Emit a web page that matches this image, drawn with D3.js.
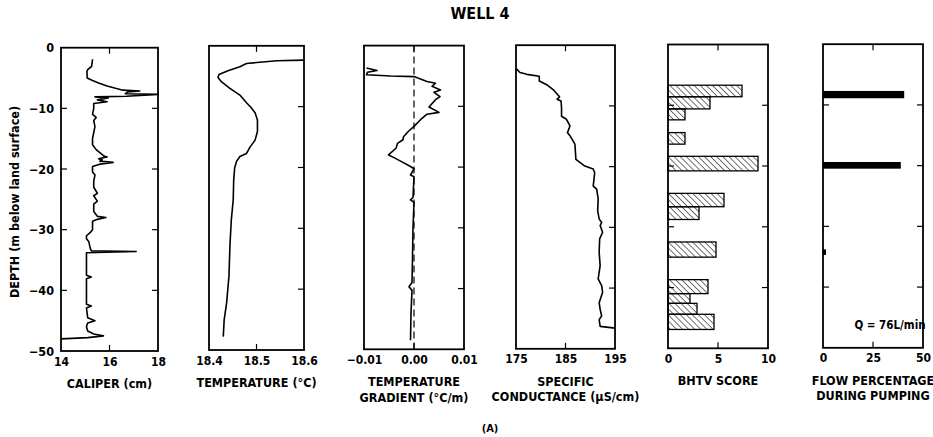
<!DOCTYPE html>
<html><head><meta charset="utf-8">
<script src="https://cdn.jsdelivr.net/npm/d3@7"></script>
<style>
body{margin:0;background:#fff}
svg text{font-family:"Liberation Sans Narrow","DejaVu Sans Condensed","Arial Narrow",sans-serif;font-weight:bold;fill:#000}
</style></head><body>
<svg id="c" width="933" height="437"></svg>
<script>
// ---- data: [depth (m), value] ----
const caliper = [[-1.9,15.30],[-2.6,15.28],[-3.1,15.26],[-3.6,15.10],[-3.9,15.07],[-5.0,15.08],[-5.4,15.30],[-5.8,15.55],[-6.3,15.90],[-6.7,16.25],[-7.0,16.55],[-7.15,17.25],[-7.3,16.75],[-7.6,16.65],[-7.7,18.0],[-8.0,16.7],[-8.1,15.4],[-8.3,15.95],[-8.6,15.5],[-8.9,15.9],[-9.2,15.35],[-10,15.35],[-11,15.3],[-11.5,15.45],[-12,15.35],[-13,15.4],[-14,15.35],[-15,15.3],[-16,15.3],[-16.8,15.45],[-17.3,15.6],[-17.8,15.75],[-18.0,15.9],[-18.3,15.55],[-18.5,15.7],[-18.7,15.6],[-18.9,16.15],[-19.2,15.6],[-19.6,15.3],[-20.5,15.3],[-21,15.4],[-22,15.35],[-23,15.35],[-24,15.5],[-24.4,15.35],[-25.3,15.5],[-25.8,15.35],[-27,15.35],[-27.8,15.5],[-28.0,15.85],[-28.3,15.5],[-28.6,15.3],[-30,15.3],[-30.5,15.2],[-31.0,15.05],[-31.5,15.05],[-32,15.15],[-33,15.2],[-33.5,15.25],[-33.6,17.1],[-33.8,15.05],[-37.5,15.05],[-37.8,15.25],[-38.1,15.05],[-42.3,15.05],[-42.6,15.25],[-42.9,15.05],[-44.5,15.1],[-45.0,15.4],[-45.4,15.1],[-46.0,15.05],[-46.7,15.1],[-47.2,15.35],[-47.5,15.75],[-47.8,15.1],[-48.0,14.0]];
const temperature = [[-2.35,18.599],[-2.46,18.543],[-2.9,18.479],[-3.45,18.465],[-4.1,18.44],[-4.7,18.421],[-5.2,18.419],[-5.9,18.426],[-7.0,18.444],[-8.1,18.465],[-9.35,18.479],[-10.1,18.488],[-11.0,18.497],[-12.2,18.502],[-14.1,18.502],[-15.5,18.497],[-16.7,18.486],[-17.7,18.479],[-18.2,18.465],[-19.0,18.458],[-20.1,18.454],[-22.0,18.452],[-25.3,18.451],[-28.6,18.447],[-33,18.444],[-37.9,18.442],[-42.3,18.437],[-45,18.432],[-47.8,18.43]];
const gradient = [[-3.7,-0.0095],[-4.1,-0.0074],[-4.4,-0.0093],[-4.8,-0.0095],[-5.0,-0.0047],[-5.1,0.0],[-5.9,0.0026],[-6.2,0.0043],[-6.7,0.0036],[-7.3,0.0053],[-7.7,0.004],[-8.4,0.0052],[-8.9,0.0043],[-10.1,0.003],[-11.0,0.005],[-11.3,0.0026],[-12.2,0.0013],[-13.3,0.0],[-14.1,-0.0011],[-15.0,-0.0021],[-15.5,-0.0022],[-16.1,-0.0033],[-16.9,-0.0036],[-18.0,-0.0051],[-18.4,-0.0041],[-19.1,-0.0025],[-19.9,-0.0007],[-20.3,0.0],[-21.3,-0.0007],[-21.6,0.0],[-25.0,-0.0002],[-25.4,-0.0007],[-25.8,0.0],[-30,-0.0002],[-35,-0.0003],[-39.0,-0.0004],[-39.7,-0.001],[-40.3,-0.0004],[-44,-0.0006],[-48.5,-0.0007]];
const conductance = [[-3.9,175.1],[-4.5,175.8],[-4.8,177.2],[-5.1,179.7],[-5.9,179.7],[-6.5,181.2],[-7.3,182.5],[-8.5,183.8],[-8.9,183.3],[-9.2,184.1],[-10.3,184.2],[-11.7,184.2],[-12.2,185.2],[-13.3,185.9],[-14.4,185.4],[-14.9,185.9],[-16.3,186.9],[-18.8,187.1],[-19.9,188.9],[-20.4,190.6],[-21.0,190.9],[-23.2,190.6],[-23.7,191.3],[-25.3,191.6],[-27.3,191.5],[-28.6,191.8],[-29.2,192.3],[-29.7,192.0],[-30.8,192.5],[-31.9,191.9],[-34.1,191.8],[-36.3,192.0],[-38.5,191.6],[-39.6,192.3],[-40.7,192.5],[-42.4,191.8],[-43.5,192.0],[-44.6,192.3],[-45.2,191.8],[-46.3,192.0],[-46.6,195]];
// [top depth, bottom depth, score]
const bhtv = [[-6.7,-8.6,7.4],[-8.6,-10.6,4.2],[-10.6,-12.4,1.7],[-14.5,-16.4,1.7],[-18.4,-20.8,9.0],[-24.5,-26.7,5.6],[-26.7,-28.8,3.1],[-32.5,-35.0,4.8],[-38.7,-41.0,4.0],[-41.0,-42.6,2.2],[-42.6,-44.4,2.9],[-44.4,-46.9,4.6]];
// [top depth, bottom depth, flow %]
const flow = [[-7.7,-8.9,40.6],[-19.4,-20.5,38.9],[-33.8,-34.7,1.5]];
const depthTicks = [0,-10,-20,-30,-40,-50];
const caliperTicks = [14,16,18];
const temperatureTicks = [18.4,18.5,18.6];
const gradientTicks = [-0.01,0,0.01];
const conductanceTicks = [175,185,195];
const bhtvTicks = [0,5,10];
const flowTicks = [0,25,50];

const svg = d3.select("#c");
const defs = svg.append("defs");
const pat = defs.append("pattern").attr("id","hatch").attr("patternUnits","userSpaceOnUse")
  .attr("width",4.3).attr("height",4.3).attr("patternTransform","rotate(-45)");
pat.append("line").attr("x1",0).attr("y1",0).attr("x2",0).attr("y2",4.3).attr("stroke","#000").attr("stroke-width",1.1);

const panels = [
 {x0:61,x1:158,top:47.7,bottom:351,domain:[14,18],ticks:caliperTicks,fmt:d3.format("d"),title:["CALIPER (cm)"],left:true},
 {x0:209,x1:304,top:45.8,bottom:350,domain:[18.4,18.6],ticks:temperatureTicks,fmt:d3.format(".1f"),title:["TEMPERATURE (°C)"]},
 {x0:364,x1:464,top:45.6,bottom:349.3,domain:[-0.01,0.01],ticks:gradientTicks,fmt:d3.format(".2f"),title:["TEMPERATURE","GRADIENT (°C/m)"]},
 {x0:516,x1:615,top:45.2,bottom:348.8,domain:[175,195],ticks:conductanceTicks,fmt:d3.format("d"),title:["SPECIFIC","CONDUCTANCE (µS/cm)"]},
 {x0:668,x1:768,top:44.5,bottom:348.3,domain:[0,10],ticks:bhtvTicks,fmt:d3.format("d"),title:["BHTV SCORE"],leftTicks:true},
 {x0:823,x1:923,top:44.2,bottom:347.8,domain:[0,50],ticks:flowTicks,fmt:d3.format("d"),title:["FLOW PERCENTAGE","DURING PUMPING"],leftTicks:true}
];
panels.forEach(p=>{
  p.xs = d3.scaleLinear().domain(p.domain).range([p.x0,p.x1]);
  p.ys = d3.scaleLinear().domain([0,-50]).range([p.top,p.bottom]);
});

function drawFrame(p){
  const g = svg.append("g");
  g.append("rect").attr("x",p.x0).attr("y",p.top).attr("width",p.x1-p.x0).attr("height",p.bottom-p.top)
    .attr("fill","none").attr("stroke","#000").attr("stroke-width",1.8);
  const inner = depthTicks.slice(1,-1);
  g.selectAll(".rt").data(inner).join("line").attr("x1",p.x1).attr("x2",p.x1-6)
    .attr("y1",d=>p.ys(d)).attr("y2",d=>p.ys(d)).attr("stroke","#000").attr("stroke-width",1.2);
  if(p.left||p.leftTicks){
    g.selectAll(".lt").data(inner).join("line").attr("x1",p.x0).attr("x2",p.x0+6)
      .attr("y1",d=>p.ys(d)).attr("y2",d=>p.ys(d)).attr("stroke","#000").attr("stroke-width",1.2);
  }
  const mid = p.ticks[1];
  g.append("line").attr("x1",p.xs(mid)).attr("x2",p.xs(mid)).attr("y1",p.top).attr("y2",p.top+6).attr("stroke","#000").attr("stroke-width",1.2);
  g.append("line").attr("x1",p.xs(mid)).attr("x2",p.xs(mid)).attr("y1",p.bottom).attr("y2",p.bottom-6).attr("stroke","#000").attr("stroke-width",1.2);
  const ax = g.append("g").attr("transform",`translate(0,${p.bottom})`)
    .call(d3.axisBottom(p.xs).tickValues(p.ticks).tickFormat(p.fmt).tickSize(0).tickPadding(6));
  ax.select(".domain").remove();
  ax.selectAll("text").style("font-size","12px").attr("fill","#000");
  p.title.forEach((t,i)=>{
    g.append("text").attr("x",(p.x0+p.x1)/2).attr("y",p.bottom+37+i*15.5).attr("text-anchor","middle")
      .style("font-size","12.5px").text(t);
  });
  if(p.left){
    const ay = g.append("g").attr("transform",`translate(${p.x0},0)`)
      .call(d3.axisLeft(p.ys).tickValues(depthTicks).tickFormat(d3.format("d")).tickSize(0).tickPadding(7));
    ay.select(".domain").remove();
    ay.selectAll("text").style("font-size","12.5px").attr("fill","#000");
  }
  return g;
}
panels.forEach(drawFrame);

const line = p => d3.line().x(d=>p.xs(d[1])).y(d=>p.ys(d[0]));
const series = [caliper, temperature, gradient, conductance];
series.forEach((s,i)=>{
  const p = panels[i];
  svg.append("path").datum(s).attr("d",line(p)).attr("fill","none").attr("stroke","#000")
    .attr("stroke-width",1.6).attr("stroke-linejoin","round");
});
// zero dashed line in gradient panel
{
  const p = panels[2];
  svg.append("line").attr("x1",p.xs(0)).attr("x2",p.xs(0)).attr("y1",p.top).attr("y2",p.bottom)
    .attr("stroke","#000").attr("stroke-width",1.2).attr("stroke-dasharray","7,4");
}
// BHTV bars
{
  const p = panels[4];
  svg.append("g").selectAll("rect").data(bhtv).join("rect")
    .attr("x",p.xs(0)).attr("y",d=>p.ys(d[0])).attr("width",d=>p.xs(d[2])-p.xs(0))
    .attr("height",d=>p.ys(d[1])-p.ys(d[0])).attr("fill","url(#hatch)").attr("stroke","#000").attr("stroke-width",1.3);
}
// flow bars
{
  const p = panels[5];
  svg.append("g").selectAll("rect").data(flow).join("rect")
    .attr("x",p.xs(0)).attr("y",d=>p.ys(d[0])).attr("width",d=>p.xs(d[2])-p.xs(0))
    .attr("height",d=>p.ys(d[1])-p.ys(d[0])).attr("fill","#000");
  svg.append("text").attr("x",p.x0+67).attr("y",p.bottom-19).attr("text-anchor","middle")
    .style("font-size","11.5px").text("Q = 76L/min");
}
svg.append("text").attr("x",480).attr("y",19).attr("text-anchor","middle").style("font-size","16px").text("WELL 4");
svg.append("text").attr("transform","translate(19,202) rotate(-90)").attr("text-anchor","middle")
  .style("font-size","12.5px").text("DEPTH (m below land surface)");
svg.append("text").attr("x",490).attr("y",432).attr("text-anchor","middle").style("font-size","11px").text("(A)");
</script>
</body></html>
